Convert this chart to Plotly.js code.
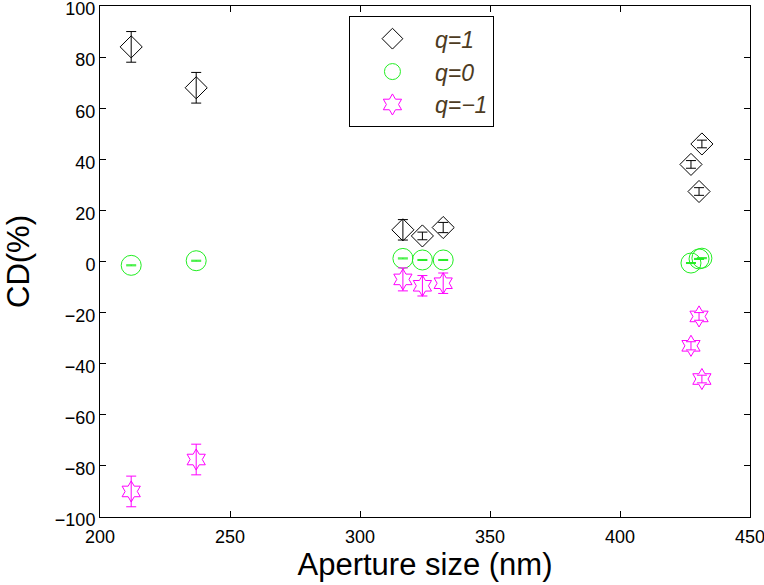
<!DOCTYPE html>
<html><head><meta charset="utf-8">
<script src="https://cdn.plot.ly/plotly-3.0.1.min.js"></script>
<style>html,body{margin:0;padding:0;background:#fff}#plot{width:764px;height:585px}</style>
</head><body><div id="plot"></div>
<script>
// Aperture sizes (nm)
const apertureSize = [212, 237, 316.5, 324, 332, 427.3, 430.4, 431.5];
// CD (%) for each charge
const cdQ1  = [84, 68, 12.4, 10, 13.3, 38, 27.4, 46];
const errQ1 = [6, 6, 4, 1.5, 2, 1.5, 1.5, 1.5];
const cdQ0  = [-1.5, 0.3, 1.2, 0.6, 0.6, -0.6, 1.0, 1.3];
const errQ0 = [0.2, 0.2, 0.2, 0.2, 0.2, 0.2, 0.2, 0.2];
const cdQm1  = [-90, -77.5, -7, -9.5, -8.5, -33, -21.5, -46];
const errQm1 = [6, 6, 4.5, 4, 4, 1.6, 1.5, 1.5];
const seriesNames = ['q=1', 'q=0', 'q=\u22121'];
const xTicks = [200, 250, 300, 350, 400, 450];
const yTicks = [-100, -80, -60, -40, -20, 0, 20, 40, 60, 80, 100];

function tr(y, e, name, color, symbol, size) {
  return {
    type: 'scatter', mode: 'markers', x: apertureSize, y: y, name: name,
    marker: {symbol: symbol, size: size, color: color, line: {color: color, width: 1}},
    error_y: {type: 'data', array: e, visible: true, color: color, thickness: 1, width: 5}
  };
}
const data = [
  tr(cdQ1, errQ1, seriesNames[0], '#000000', 'diamond-open', 17),
  tr(cdQ0, errQ0, seriesNames[1], '#22ee22', 'circle-open', 20),
  tr(cdQm1, errQm1, seriesNames[2], '#ff00ff', 'hexagram-open', 16)
];
const F = 'Arial, "Liberation Sans", sans-serif';
const axisCommon = {
  showline: true, mirror: 'ticks', linecolor: '#000', linewidth: 1,
  ticks: 'inside', ticklen: 6, tickcolor: '#000', showgrid: false, zeroline: false,
  ticklabeloverflow: 'allow',
  tickfont: {family: F, size: 18, color: '#000'}
};
const layout = {
  width: 764, height: 585,
  margin: {l: 100, r: 14, t: 6, b: 68},
  paper_bgcolor: '#fff', plot_bgcolor: '#fff',
  showlegend: true,
  legend: {
    x: 0.383, y: 0.98, xanchor: 'left', yanchor: 'top',
    bgcolor: '#fff', bordercolor: '#000', borderwidth: 1,
    itemwidth: 75,
    font: {family: F, size: 23, color: '#4d3b22', style: 'italic'}
  },
  xaxis: Object.assign({}, axisCommon, {
    range: [200, 450], tickvals: xTicks, ticklabelstandoff: 3,
    title: {text: 'Aperture size (nm)', standoff: 1, font: {family: F, size: 31, color: '#000'}}
  }),
  yaxis: Object.assign({}, axisCommon, {
    range: [-100, 100], tickvals: yTicks, ticklabelshift: 3,
    title: {text: 'CD(%)', standoff: 16, font: {family: F, size: 31, color: '#000'}}
  })
};
Plotly.newPlot('plot', data, layout, {displayModeBar: false});
</script></body></html>
